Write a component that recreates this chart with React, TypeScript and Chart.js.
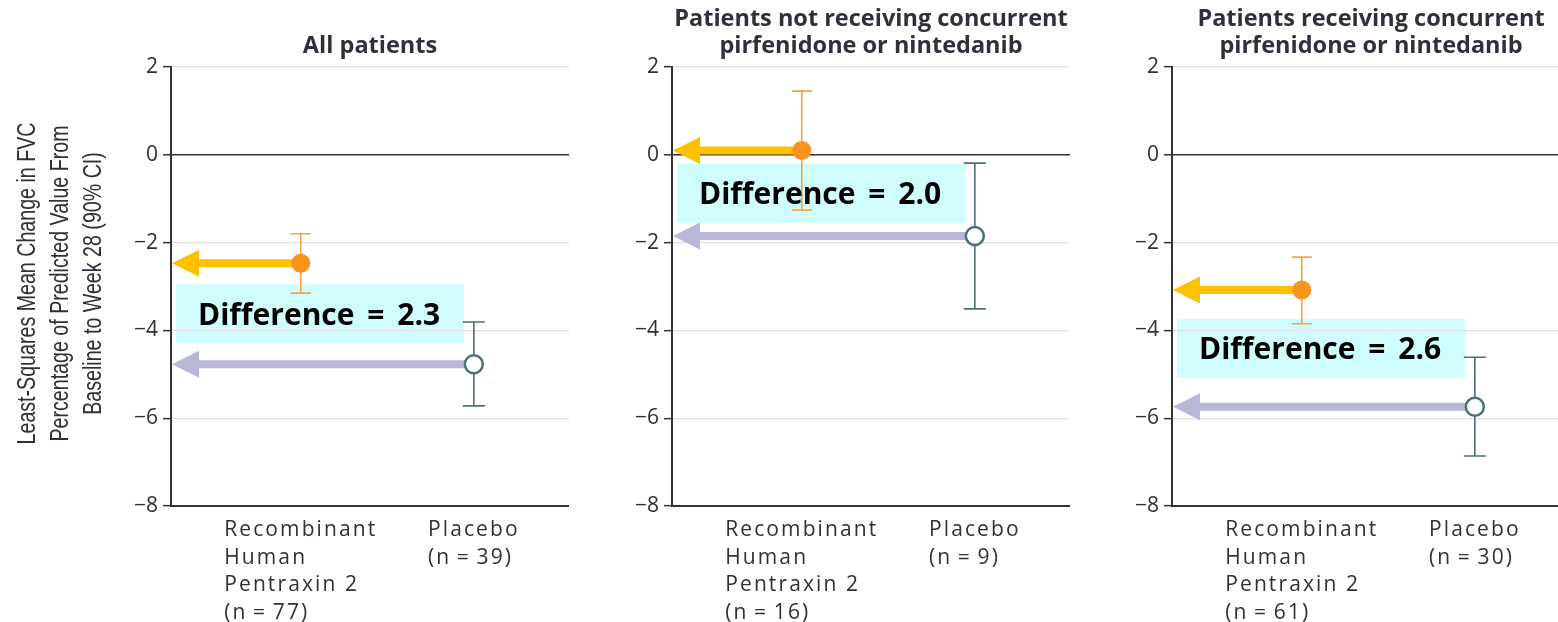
import React, { useEffect, useRef } from 'react';
import { Chart, registerables } from 'chart.js';

Chart.register(...registerables);

// ---------- data ----------
const panelTitles: string[][] = [
  ['All patients'],
  ['Patients not receiving concurrent', 'pirfenidone or nintedanib'],
  ['Patients receiving concurrent', 'pirfenidone or nintedanib'],
];
const categories = ['Recombinant Human Pentraxin 2', 'Placebo'];
const drugLabelLines = ['Recombinant', 'Human', 'Pentraxin 2'];
const placeboLabelLines = ['Placebo'];
const drugN = [77, 16, 61];
const placeboN = [39, 9, 30];
const drugMean = [-2.47, 0.1, -3.08];
const drugLower = [-3.15, -1.26, -3.85];
const drugUpper = [-1.8, 1.45, -2.33];
const placeboMean = [-4.77, -1.85, -5.74];
const placeboLower = [-5.72, -3.51, -6.86];
const placeboUpper = [-3.81, -0.19, -4.61];
const differenceValues = ['2.3', '2.0', '2.6'];
const yTicks = [2, 0, -2, -4, -6, -8];
const yAxisTitle = [
  'Least-Squares Mean Change in FVC',
  'Percentage of Predicted Value From',
  'Baseline to Week 28 (90% CI)',
];

// ---------- layout / style ----------
const panelLayout = [
  { left: 0, w: 569, axisW: 171 },
  { left: 580, w: 490, axisW: 92 },
  { left: 1080, w: 490, axisW: 92 },
];
const DRUG_POINT = '#F7941D';
const DRUG_BAR = '#F4A444';
const DRUG_ARROW = '#FFC000';
const PLACEBO_LINE = '#4E6F76';
const PLACEBO_ARROW = '#B8B7D7';
const BOX_FILL = '#CFFDFD';
const TEXT = '#30303c';
const SANS = '"Open Sans", "Noto Sans", sans-serif';

function drawArrow(ctx: CanvasRenderingContext2D, x0: number, xTip: number, y: number, color: string) {
  const th = 8, hl = 27, hh = 13.5;
  ctx.fillStyle = color;
  ctx.beginPath();
  ctx.moveTo(x0, y - th / 2);
  ctx.lineTo(xTip + hl, y - th / 2);
  ctx.lineTo(xTip + hl, y - hh);
  ctx.lineTo(xTip, y);
  ctx.lineTo(xTip + hl, y + hh);
  ctx.lineTo(xTip + hl, y + th / 2);
  ctx.lineTo(x0, y + th / 2);
  ctx.closePath();
  ctx.fill();
}

function drawErrorBar(ctx: CanvasRenderingContext2D, x: number, yLo: number, yHi: number, half: number, color: string) {
  ctx.strokeStyle = color;
  ctx.lineWidth = 1.6;
  ctx.beginPath();
  ctx.moveTo(x, yLo);
  ctx.lineTo(x, yHi);
  ctx.moveTo(x - half, yLo);
  ctx.lineTo(x + half, yLo);
  ctx.moveTo(x - half, yHi);
  ctx.lineTo(x + half, yHi);
  ctx.stroke();
}

function makePlugin(i: number) {
  return {
    id: 'annot' + i,
    beforeDraw(chart: any) {
      const { ctx, chartArea, scales } = chart;
      const yd = scales.y.getPixelForValue(drugMean[i]);
      const yp = scales.y.getPixelForValue(placeboMean[i]);
      const cy = (yd + yp) / 2;
      ctx.save();
      ctx.fillStyle = BOX_FILL;
      ctx.fillRect(chartArea.left + 5, cy - 29.5, 288, 59);
      ctx.restore();
    },
    beforeDatasetsDraw(chart: any) {
      const { ctx, chartArea, scales } = chart;
      const x = scales.x, y = scales.y;
      const xd = x.getPixelForValue(1);
      const xp = x.getPixelForValue(2);
      const yd = y.getPixelForValue(drugMean[i]);
      const yp = y.getPixelForValue(placeboMean[i]);
      const cy = (yd + yp) / 2;
      ctx.save();
      drawErrorBar(ctx, xd, y.getPixelForValue(drugLower[i]), y.getPixelForValue(drugUpper[i]), 10, DRUG_BAR);
      drawErrorBar(ctx, xp, y.getPixelForValue(placeboLower[i]), y.getPixelForValue(placeboUpper[i]), 11, PLACEBO_LINE);
      ctx.fillStyle = '#000';
      ctx.font = 'bold 30px ' + SANS;
      (ctx as any).wordSpacing = '5px';
      ctx.textAlign = 'left';
      ctx.textBaseline = 'alphabetic';
      ctx.fillText('Difference = ' + differenceValues[i], chartArea.left + 27, cy + 11);
      (ctx as any).wordSpacing = '0px';
      drawArrow(ctx, xd, chartArea.left + 1, yd, DRUG_ARROW);
      drawArrow(ctx, xp, chartArea.left + 1, yp, PLACEBO_ARROW);
      ctx.restore();
    },
    afterDraw(chart: any) {
      const { ctx, chartArea, scales } = chart;
      const blocks = [
        { v: 1, lines: [...drugLabelLines, `(n\u2009=\u2009${drugN[i]})`] },
        { v: 2, lines: [...placeboLabelLines, `(n\u2009=\u2009${placeboN[i]})`] },
      ];
      ctx.save();
      ctx.font = '500 21px ' + SANS;
      (ctx as any).letterSpacing = '2.1px';
      ctx.fillStyle = TEXT;
      ctx.textAlign = 'left';
      ctx.textBaseline = 'middle';
      blocks.forEach((b) => {
        const px = scales.x.getPixelForValue(b.v);
        const maxW = Math.max(...b.lines.map((l) => ctx.measureText(l).width));
        const left = px - maxW / 2;
        b.lines.forEach((l, k) => {
          ctx.fillText(l, left, chartArea.bottom + 24 + k * 27.7);
        });
      });
      ctx.restore();

      if (i === 0) {
        // rotated, condensed y-axis title
        const cy = (chartArea.top + chartArea.bottom) / 2 - 3;
        const xs = [28, 61, 94];
        ctx.save();
        ctx.font = '26px "Liberation Sans", Arial, sans-serif';
        ctx.fillStyle = TEXT;
        ctx.textAlign = 'center';
        ctx.textBaseline = 'middle';
        yAxisTitle.forEach((t, k) => {
          ctx.save();
          ctx.translate(xs[k], cy);
          ctx.rotate(-Math.PI / 2);
          ctx.scale(0.755, 1);
          ctx.fillText(t, 0, 0);
          ctx.restore();
        });
        ctx.restore();
      }
    },
  };
}

function makeConfig(i: number): any {
  const lay = panelLayout[i];
  const twoLine = panelTitles[i].length > 1;
  return {
    type: 'scatter',
    data: {
      datasets: [
        {
          label: categories[0],
          data: [{ x: 1, y: drugMean[i] }],
          pointRadius: 9.5,
          pointBackgroundColor: DRUG_POINT,
          pointBorderColor: DRUG_POINT,
          pointBorderWidth: 0,
        },
        {
          label: categories[1],
          data: [{ x: 2, y: placeboMean[i] }],
          pointRadius: 9,
          pointBackgroundColor: '#ffffff',
          pointBorderColor: PLACEBO_LINE,
          pointBorderWidth: 2.5,
        },
      ],
    },
    options: {
      animation: false,
      responsive: false,
      maintainAspectRatio: false,
      events: [],
      layout: { padding: 0, autoPadding: false },
      plugins: {
        legend: { display: false },
        tooltip: { enabled: false },
        title: {
          display: true,
          text: panelTitles[i],
          fullSize: false,
          color: TEXT,
          font: { family: SANS, size: 23.5, weight: 'bold', lineHeight: 27 / 23.5 },
          padding: twoLine ? { top: 5.5, bottom: 7.5 } : { top: 32.5, bottom: 7.5 },
        },
      },
      scales: {
        x: {
          type: 'linear',
          min: 0.25,
          max: 2.55,
          ticks: { display: false },
          grid: { display: false },
          border: { display: true, color: '#333', width: 2 },
          afterFit: (s: any) => {
            s.height = 116;
          },
        },
        y: {
          type: 'linear',
          min: -8,
          max: 2,
          afterBuildTicks: (s: any) => {
            s.ticks = yTicks.map((v) => ({ value: v }));
          },
          ticks: {
            autoSkip: false,
            padding: 5,
            color: TEXT,
            font: { family: SANS, size: 21, weight: '500' },
            callback: (v: number) => (v < 0 ? '\u2212' + Math.abs(v) : String(v)),
          },
          grid: {
            color: (c: any) => (c.tick && c.tick.value === 0 ? '#333' : '#e3e3e3'),
            lineWidth: (c: any) => (c.tick && c.tick.value === 0 ? 1.6 : 1.3),
            tickColor: '#333',
            tickLength: 8,
            tickWidth: 1.5,
          },
          border: { display: true, color: '#333', width: 2 },
          afterFit: (s: any) => {
            s.width = lay.axisW;
          },
        },
      },
    },
    plugins: [makePlugin(i)],
  };
}

export default function App() {
  const r0 = useRef<HTMLCanvasElement>(null);
  const r1 = useRef<HTMLCanvasElement>(null);
  const r2 = useRef<HTMLCanvasElement>(null);
  const refs = [r0, r1, r2];
  useEffect(() => {
    document.body.style.margin = '0';
    const charts = refs.map((r, i) => new Chart(r.current as HTMLCanvasElement, makeConfig(i)));
    return () => charts.forEach((c) => c.destroy());
  }, []);
  return (
    <div style={{ position: 'relative', width: 1558, height: 622, overflow: 'hidden', background: '#fff' }}>
      {panelLayout.map((p, i) => (
        <canvas
          key={i}
          ref={refs[i]}
          width={p.w}
          height={622}
          style={{ position: 'absolute', left: p.left, top: 0, width: p.w, height: 622 }}
        />
      ))}
    </div>
  );
}
